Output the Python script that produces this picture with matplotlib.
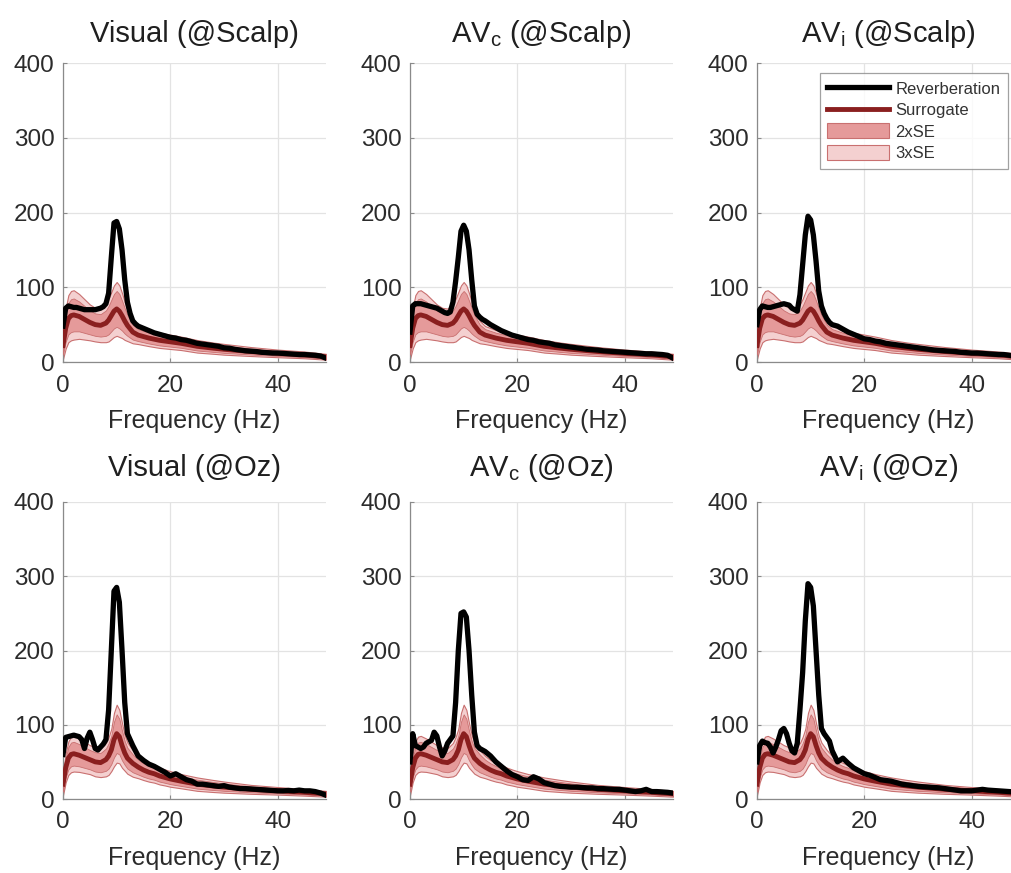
import numpy as np
import matplotlib
matplotlib.use("Agg")
import matplotlib.pyplot as plt
from matplotlib.lines import Line2D
from matplotlib.patches import Patch

plt.rcParams['font.family'] = ['Liberation Sans', 'DejaVu Sans']
plt.rcParams['mathtext.fontset'] = 'custom'
plt.rcParams['mathtext.rm'] = 'Liberation Sans'
plt.rcParams['mathtext.it'] = 'Liberation Sans'

# frequency grid of the reverberation spectra (Hz)
REV_FREQ = [0, 0.5, 1, 1.5, 2, 2.5, 3, 3.5, 4, 4.5, 5, 5.5, 6, 6.5, 7, 7.5,
            8, 8.5, 9, 9.5, 10, 10.5, 11, 11.5, 12, 12.5, 13, 13.5, 14,
            15, 16, 17, 18, 19, 20, 21, 22, 23, 24, 25, 26, 27, 28, 29,
            30, 31, 32, 33, 34, 35, 36, 37, 38, 39, 40, 41, 42, 43, 44,
            45, 46, 47, 48, 49]

REV_VIS_SCALP = [48, 72, 75, 74, 73, 73, 72, 71, 70, 70, 70, 70, 70, 71, 72, 74,
                 78, 92, 140, 186, 188, 178, 150, 110, 80, 65, 55, 51, 48,
                 45, 42, 39, 37, 35, 33, 32, 30, 29, 27, 25, 24, 23, 22, 21,
                 19, 18.5, 17, 16, 15, 14.5, 14, 13, 12.5, 12, 12, 11.5, 11, 10.5, 10,
                 10, 9.5, 9, 8, 5]
REV_AVC_SCALP = [40, 75, 78, 78, 78, 77, 76, 75, 74, 73, 72, 70, 68, 66, 65, 67,
                 80, 108, 140, 175, 183, 175, 150, 110, 75, 64, 60, 57, 55,
                 50, 46, 42, 39, 36, 34, 32, 30, 29, 27, 26, 25, 23, 22, 21,
                 20, 19, 18, 17, 16.5, 16, 15, 14.5, 14, 13.5, 13, 12.5, 12, 11.5, 11,
                 11, 10.5, 10, 9, 5]
REV_AVI_SCALP = [50, 70, 75, 74, 73, 73, 74, 75, 76, 77, 78, 77, 76, 72, 70, 68,
                 90, 130, 170, 195, 190, 170, 135, 95, 75, 65, 58, 53, 50,
                 48, 44, 40, 37, 34, 31, 30, 28, 27, 25, 24, 23, 22, 21, 20,
                 19, 18, 17, 16, 15.5, 15, 14.5, 14, 13, 12.5, 12, 12, 11.5, 11, 10.5,
                 10, 10, 9, 8, 6]
REV_VIS_OZ = [60, 83, 84, 85, 86, 85, 84, 80, 68, 82, 90, 80, 68, 66, 70, 74,
              80, 120, 200, 280, 285, 265, 200, 130, 88, 80, 72, 65, 58,
              52, 47, 44, 40, 36, 31, 34, 30, 26, 24, 20, 20, 19, 18, 17,
              18, 16, 15, 14, 14, 13.5, 13, 12.5, 12, 11.5, 11, 11, 11.5, 11, 12,
              11, 11, 10, 8, 5]
REV_AVC_OZ = [50, 88, 72, 70, 68, 70, 75, 77, 79, 90, 85, 70, 58, 65, 75, 80,
              85, 130, 200, 250, 252, 245, 200, 140, 90, 72, 68, 66, 64,
              58, 50, 44, 38, 33, 30, 26, 25, 30, 27, 22, 20, 18, 17, 16.5,
              16, 16, 15.5, 15, 15, 14, 14, 13.5, 13, 13, 12, 11, 10, 11, 13,
              10, 10, 9.5, 9, 8]
REV_AVI_OZ = [50, 72, 78, 76, 75, 70, 62, 70, 80, 92, 95, 88, 75, 65, 62, 75,
              120, 170, 240, 290, 285, 260, 200, 140, 95, 88, 83, 78, 65,
              50, 55, 48, 42, 38, 34, 32, 29, 26, 25, 24, 22, 20, 19, 18,
              17, 16.5, 16, 15.5, 15, 14, 13, 12, 11, 11, 11, 12, 13, 12, 11.5,
              11, 10.5, 10, 9.5, 9]

# surrogate mean and standard error (per recording site)
SURR_FREQ = [0, 0.5, 1, 1.5, 2, 3, 4, 5, 6, 7, 8, 8.5, 9, 9.5, 10, 10.5, 11,
             11.5, 12, 13, 14, 15, 16, 17, 18, 19, 20, 22, 25, 28, 30, 35,
             40, 45, 49]
SURR_MEAN_SCALP = [22, 45, 58, 62, 63, 61, 57, 53, 50, 49, 52, 56, 62, 68, 71, 68, 62,
                   55, 49, 40, 36, 34, 32, 30.5, 29, 28, 27, 25, 21, 18.5, 17, 14,
                   11.5, 9.5, 7]
SURR_SE_SCALP = [6, 9, 10.5, 11, 11, 10, 9, 8, 7.5, 7.5, 8.5, 9.5, 10.5, 11.5, 12, 11.5, 10,
                 8.5, 7, 5, 4, 3.8, 3.6, 3.5, 3.4, 3.3, 3.2, 3, 2.8, 2.5, 2.4, 2,
                 1.7, 1.5, 1.3]
SURR_MEAN_OZ = [20, 42, 55, 60, 61, 59, 56, 53, 50, 49, 53, 58, 66, 80, 88, 84, 72,
                62, 55, 48, 43, 39, 36, 34, 31, 29, 27, 24, 20, 17.5, 16, 13,
                11, 9, 7]
SURR_SE_OZ = [5, 6.5, 7.5, 8, 8, 7.5, 7, 6.5, 6.5, 6.5, 7.5, 8.5, 9.5, 12, 13, 12, 10,
              8, 7, 6, 5, 4.5, 4.2, 4, 3.8, 3.6, 3.5, 3.2, 3, 2.7, 2.5, 2,
              1.7, 1.5, 1.3]

TITLES = [["Visual (@Scalp)", r"AV$_\mathregular{c}$ (@Scalp)", r"AV$_\mathregular{i}$ (@Scalp)"],
          ["Visual (@Oz)", r"AV$_\mathregular{c}$ (@Oz)", r"AV$_\mathregular{i}$ (@Oz)"]]
REVERB = [[REV_VIS_SCALP, REV_AVC_SCALP, REV_AVI_SCALP],
          [REV_VIS_OZ, REV_AVC_OZ, REV_AVI_OZ]]
SURR = [(SURR_MEAN_SCALP, SURR_SE_SCALP), (SURR_MEAN_OZ, SURR_SE_OZ)]

C_REV = 'black'
C_SURR = '#8a1f1f'
C_2SE = '#e59a9a'
C_3SE = '#f4d0d0'
C_EDGE = '#c97070'
C_TEXT = '#2b2b2b'

W, H = 1012, 873
fig = plt.figure(figsize=(W / 100, H / 100), dpi=100)

col_left = [63, 410, 757]
row_top = [63, 502]
row_h = [299, 297]
title_pad = [15, 19]
ax_w = 263

f_rev = np.array(REV_FREQ)
f_s = np.array(SURR_FREQ)

for r in range(2):
    mean = np.array(SURR[r][0])
    se = np.array(SURR[r][1])
    for c in range(3):
        ax = fig.add_axes([col_left[c] / W, 1 - (row_top[r] + row_h[r]) / H,
                           ax_w / W, row_h[r] / H])
        ax.fill_between(f_s, mean - 3 * se, mean + 3 * se, facecolor=C_3SE,
                        edgecolor=C_EDGE, lw=0.8, zorder=2)
        ax.fill_between(f_s, mean - 2 * se, mean + 2 * se, facecolor=C_2SE,
                        edgecolor=C_EDGE, lw=0.6, zorder=3)
        ax.plot(f_s, mean, color=C_SURR, lw=3.5, zorder=4)
        ax.plot(f_rev, REVERB[r][c], color=C_REV, lw=3.8, zorder=5,
                solid_joinstyle='round')

        ax.set_xlim(0, 49)
        ax.set_ylim(0, 400)
        ax.set_xticks([0, 20, 40])
        ax.set_yticks([0, 100, 200, 300, 400])
        ax.grid(True, color='#e3e3e3', lw=0.9)
        ax.set_axisbelow(True)
        for s in ['top', 'right']:
            ax.spines[s].set_visible(False)
        for s in ['left', 'bottom']:
            ax.spines[s].set_color('#8a8a8a')
            ax.spines[s].set_linewidth(0.9)
        ax.tick_params(direction='in', length=3, color='#8a8a8a',
                       labelsize=17.5, labelcolor=C_TEXT)
        ax.tick_params(axis='x', pad=9)
        ax.tick_params(axis='y', pad=6)
        ax.set_xlabel("Frequency (Hz)", fontsize=18, color=C_TEXT, labelpad=9)
        ax.set_title(TITLES[r][c], fontsize=21, color='#1f1f1f', pad=title_pad[r])

handles = [Line2D([], [], color=C_REV, lw=3.8),
           Line2D([], [], color=C_SURR, lw=3.5),
           Patch(facecolor=C_2SE, edgecolor=C_EDGE, lw=0.8),
           Patch(facecolor=C_3SE, edgecolor=C_EDGE, lw=0.8)]
labels = ["Reverberation", "Surrogate", "2xSE", "3xSE"]
leg = fig.legend(handles, labels, loc='upper right',
                 bbox_to_anchor=(1008 / W, 1 - 73 / H), bbox_transform=fig.transFigure,
                 borderaxespad=0, fontsize=12, frameon=True, fancybox=False,
                 handlelength=3.7, handleheight=1.0, handletextpad=0.4,
                 labelspacing=0.32, borderpad=0.45)
leg.get_frame().set_edgecolor('#8a8a8a')
leg.get_frame().set_linewidth(0.9)
for t in leg.get_texts():
    t.set_color('#333333')

fig.savefig("out.png", dpi=100)
